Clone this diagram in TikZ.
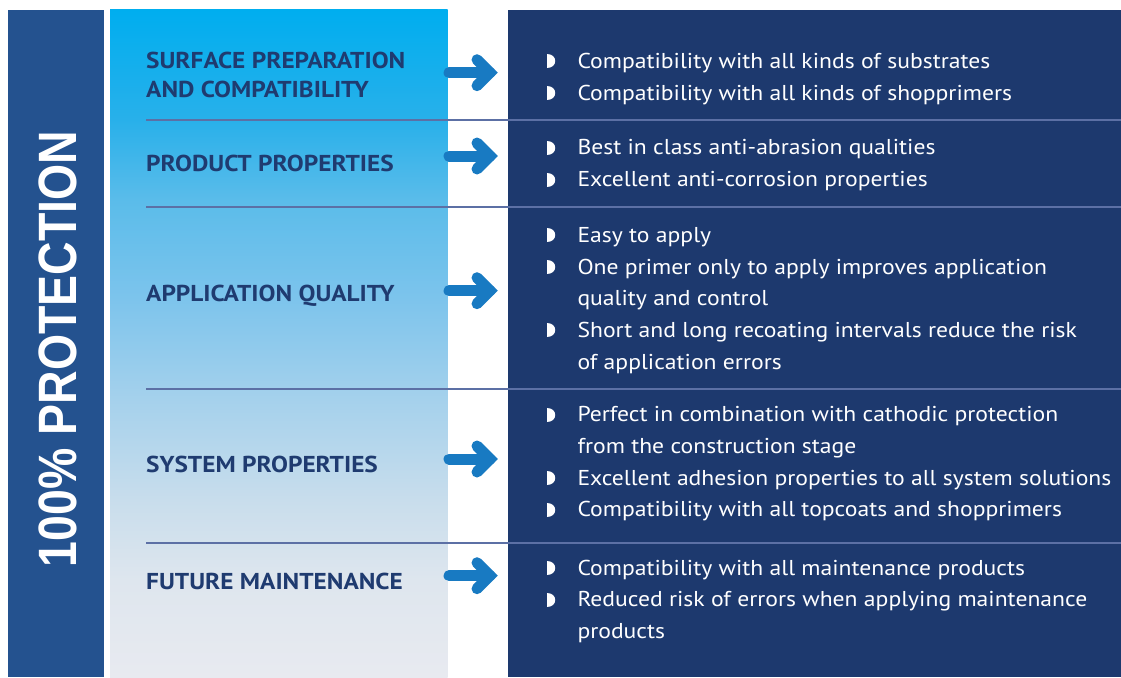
\documentclass[tikz,border=0pt]{standalone}
\usepackage{fontspec}
\usepackage{graphicx}
\setmainfont{PT Sans}[FakeStretch=1.1]
\newfontfamily\titlefont{Liberation Sans}
\usetikzlibrary{calc}

\definecolor{barblue}{RGB}{36,82,143}
\definecolor{panelnavy}{RGB}{29,57,110}
\definecolor{headblue}{RGB}{31,59,112}
\definecolor{arrowblue}{RGB}{24,122,194}
\definecolor{rulegray}{RGB}{92,112,165}
\definecolor{fadeA}{RGB}{0,174,239}
\definecolor{fadeB}{RGB}{40,176,234}
\definecolor{fadeC}{RGB}{90,188,234}
\definecolor{fadeD}{RGB}{125,196,236}
\definecolor{fadeE}{RGB}{165,209,236}
\definecolor{fadeF}{RGB}{200,221,236}
\definecolor{fadeG}{RGB}{222,230,238}
\definecolor{fadeH}{RGB}{232,234,240}

\pgfdeclareverticalshading{panelfade}{100bp}{color(0bp)=(fadeH); color(25bp)=(fadeH);
  color(32.3bp)=(fadeG); color(38.3bp)=(fadeF); color(45.8bp)=(fadeE);
  color(53.3bp)=(fadeD); color(60.8bp)=(fadeC); color(66.8bp)=(fadeB);
  color(75bp)=(fadeA); color(100bp)=(fadeA)}

\tikzset{
  headtext/.style={font=\bfseries\fontsize{23}{28.3}\selectfont, text=headblue, anchor=base west, inner sep=0pt},
  listtext/.style={font=\fontsize{21.5}{31.7}\selectfont, text=white, anchor=base west, inner sep=0pt},
  titletext/.style={font=\titlefont\bfseries\fontsize{54}{54}\selectfont, text=white, inner sep=0pt},
  sepline/.style={draw=rulegray, line width=2.2pt},
  arrowshaft/.style={draw=arrowblue, line width=11pt, line cap=round},
  arrowhead/.style={draw=arrowblue, line width=11pt, line cap=round, line join=miter},
  halfdot/.style={fill=white},
}

\begin{document}
\begin{tikzpicture}[x=1pt,y=-1pt]
  \pgfmathsetmacro{\PicW}{1121}
  \pgfmathsetmacro{\PicH}{677}
  \pgfmathsetmacro{\TopY}{10}
  \pgfmathsetmacro{\HeadX}{146}
  \pgfmathsetmacro{\DotX}{547}
  \pgfmathsetmacro{\ListX}{577.3}
  \useasboundingbox[fill=white] (0,0) rectangle (\PicW,\PicH);
  % PANELS
  \fill[barblue] (8,\TopY) rectangle (104,\PicH);
  \shade[shading=panelfade] (110,\TopY) rectangle (447.5,\PicH);
  \fill[panelnavy] (508,\TopY) rectangle (\PicW,\PicH);
  % SEPARATORS
  \foreach \yy in {120,207,389,543}
    \draw[sepline] (\HeadX,\yy) -- (\PicW,\yy);
  % TITLE
  \node[titletext, rotate=90] (title) at (58,349) {\scalebox{0.86}[1]{100\% PROTECTION}};
  % HEADINGS
  \node[headtext] (surf) at (\HeadX,69) {\begin{tabular}[t]{@{}l@{}}SURFACE PREPARATION\\AND COMPATIBILITY\end{tabular}};
  \node[headtext] (prod) at (\HeadX,171) {PRODUCT PROPERTIES};
  \node[headtext] (appl) at (\HeadX,301.7) {APPLICATION QUALITY};
  \node[headtext] (syst) at (\HeadX,472.5) {SYSTEM PROPERTIES};
  \node[headtext] (futu) at (\HeadX,589) {FUTURE MAINTENANCE};
  % ARROWS
  \foreach \name/\yy in {surf/72.7, prod/156, appl/290.7, syst/459, futu/575.7} {
    \coordinate (\name-a) at (449,\yy);
    \coordinate (\name-b) at (490,\yy);
    \draw[arrowshaft] (\name-a) -- (\name-b);
    \draw[arrowhead] ($(\name-b)+(-13,-13)$) -- (\name-b) -- ($(\name-b)+(-13,13)$);
  }
  % BULLETS
  \foreach \yy in {68.3,100,154.8,186.5,242.3,274,337.4,421.8,485.2,516.9,575,606.7}
    \fill[halfdot] (\DotX,\yy) -- ++(0,-14) .. controls +(11.3,0) and +(11.3,0) .. (\DotX,\yy) -- cycle;
  % LISTS
  \node[listtext] (surflist) at (\ListX,68.3) {\begin{tabular}[t]{@{}l@{}}
    Compatibility with all kinds of substrates\\
    Compatibility with all kinds of shopprimers
  \end{tabular}};
  \node[listtext] (prodlist) at (\ListX,154.8) {\begin{tabular}[t]{@{}l@{}}
    Best in class anti-abrasion qualities\\
    Excellent anti-corrosion properties
  \end{tabular}};
  \node[listtext] (appllist) at (\ListX,242.3) {\begin{tabular}[t]{@{}l@{}}
    Easy to apply\\
    One primer only to apply improves application\\
    quality and control\\
    Short and long recoating intervals reduce the risk\\
    of application errors
  \end{tabular}};
  \node[listtext] (systlist) at (\ListX,421.8) {\begin{tabular}[t]{@{}l@{}}
    Perfect in combination with cathodic protection\\
    from the construction stage\\
    Excellent adhesion properties to all system solutions\\
    Compatibility with all topcoats and shopprimers
  \end{tabular}};
  \node[listtext] (futulist) at (\ListX,575) {\begin{tabular}[t]{@{}l@{}}
    Compatibility with all maintenance products\\
    Reduced risk of errors when applying maintenance\\
    products
  \end{tabular}};
\end{tikzpicture}
\end{document}
